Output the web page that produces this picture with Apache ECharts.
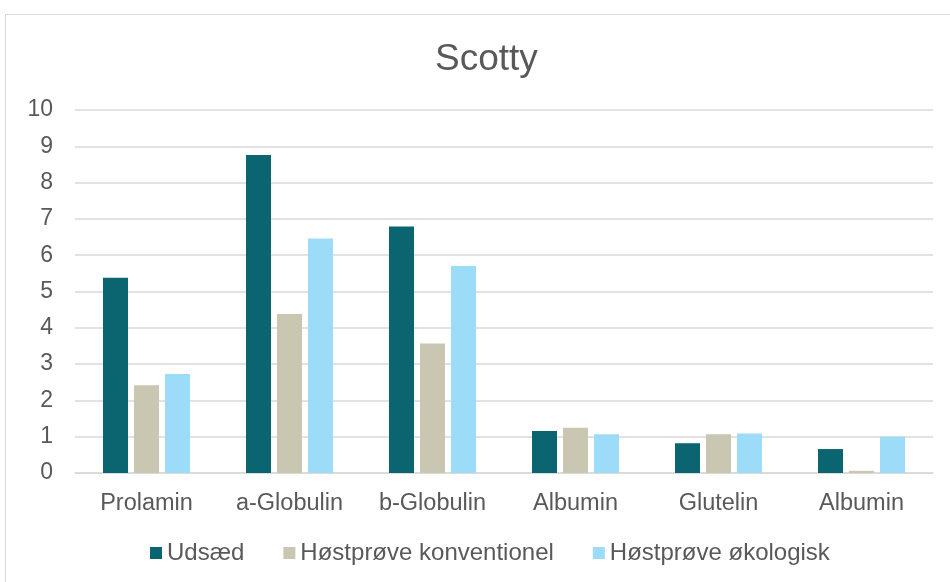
<!DOCTYPE html>
<html>
<head>
<meta charset="utf-8">
<script src="https://cdn.jsdelivr.net/npm/echarts@6/dist/echarts.min.js"></script>
<style>
  html, body { margin: 0; padding: 0; background: #fff; }
  #frame { position: absolute; left: 5px; top: 14px; width: 960px; height: 600px; border-left: 1px solid #d9d9d9; border-top: 1px solid #d9d9d9; }
  #chart { position: absolute; left: 0; top: 0; width: 950px; height: 582px; }
</style>
</head>
<body>
<div id="frame"></div>
<div id="chart"></div>
<script>
const categories = ['Prolamin', 'a-Globulin', 'b-Globulin', 'Albumin', 'Glutelin', 'Albumin']
const udsaed = [5.38, 8.76, 6.79, 1.16, 0.82, 0.66]
const konventionel = [2.42, 4.38, 3.57, 1.25, 1.07, 0.06]
const okologisk = [2.73, 6.46, 5.70, 1.07, 1.09, 1.00]

const TEXT = '#595959'
const FONT = '"Liberation Sans", Arial, sans-serif'

const chart = echarts.init(document.getElementById('chart'))

function bar(name, data, color) {
  return {
    name,
    type: 'bar',
    data,
    barWidth: 25,
    barGap: '24%',
    itemStyle: { color },
  }
}

chart.setOption({
  animation: false,
  textStyle: { fontFamily: FONT },
  title: {
    text: 'Scotty',
    left: 430,
    top: 36,
    textStyle: { color: TEXT, fontSize: 37, fontWeight: 'normal', fontFamily: FONT },
  },
  grid: { left: 75, right: 17, top: 110, bottom: 109 },
  legend: {
    bottom: 12,
    left: 145,
    itemWidth: 12,
    itemHeight: 12,
    itemGap: 39,
    icon: 'rect',
    textStyle: { color: TEXT, fontSize: 24, fontFamily: FONT },
    data: ['Udsæd', 'Høstprøve konventionel', 'Høstprøve økologisk'],
  },
  xAxis: {
    type: 'category',
    data: categories,
    axisLine: { lineStyle: { color: '#d9d9d9', width: 1.5 } },
    axisTick: { show: false },
    axisLabel: { color: TEXT, fontSize: 23.5, margin: 19, fontFamily: FONT },
  },
  yAxis: {
    type: 'value',
    min: 0,
    max: 10,
    interval: 1,
    axisLine: { show: false },
    axisTick: { show: false },
    axisLabel: { color: TEXT, fontSize: 23, margin: 22, fontFamily: FONT },
    splitLine: { lineStyle: { color: '#d9d9d9', width: 1.5 } },
  },
  series: [
    bar('Udsæd', udsaed, '#0a6570'),
    bar('Høstprøve konventionel', konventionel, '#c9c7b1'),
    bar('Høstprøve økologisk', okologisk, '#9ddcf8'),
  ],
})
</script>
</body>
</html>
